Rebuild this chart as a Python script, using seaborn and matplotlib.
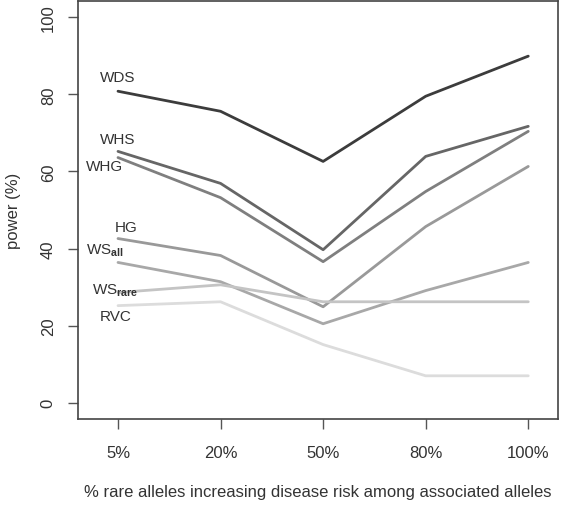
import matplotlib
matplotlib.use("Agg")
import matplotlib.pyplot as plt
import seaborn as sns
import pandas as pd

categories = ["5%", "20%", "50%", "80%", "100%"]
WDS = [80.8, 75.6, 62.6, 79.5, 89.9]
WHS = [65.2, 56.9, 39.7, 63.9, 71.7]
WHG = [63.6, 53.2, 36.6, 54.8, 70.4]
HG = [42.6, 38.2, 24.9, 45.7, 61.3]
WS_all = [36.4, 31.4, 20.5, 29.1, 36.4]
WS_rare = [28.6, 30.6, 26.2, 26.2, 26.2]
RVC = [25.2, 26.2, 15.1, 7.0, 7.0]

series = {"WDS": WDS, "WHS": WHS, "WHG": WHG, "HG": HG,
          "WS_all": WS_all, "WS_rare": WS_rare, "RVC": RVC}
colors = {"WDS": "#3c3c3c", "WHS": "#666666", "WHG": "#7f7f7f", "HG": "#999999",
          "WS_all": "#a8a8a8", "WS_rare": "#c4c4c4", "RVC": "#dcdcdc"}
label_text = {"WDS": "WDS", "WHS": "WHS", "WHG": "WHG", "HG": "HG",
              "WS_all": r"WS$_{\mathbf{all}}$", "WS_rare": r"WS$_{\mathbf{rare}}$", "RVC": "RVC"}
# label anchor positions (category index, data units)
label_pos = {"WDS": (0.0, 84.5), "WHS": (0.0, 68.5), "WHG": (-0.13, 61.5), "HG": (0.08, 45.5),
             "WS_all": (-0.13, 39.8), "WS_rare": (-0.03, 29.3), "RVC": (-0.02, 22.6)}

rows = []
for name, vals in series.items():
    for i, v in enumerate(vals):
        rows.append({"x": i, "power": v, "series": name})
df = pd.DataFrame(rows)

sns.set_style("white")
plt.rcParams["font.family"] = ["Liberation Sans", "DejaVu Sans"]
plt.rcParams["mathtext.fontset"] = "custom"
plt.rcParams["mathtext.rm"] = "Liberation Sans"
plt.rcParams["mathtext.bf"] = "Liberation Sans:bold"

fig = plt.figure(figsize=(5.61, 5.06), dpi=100)
ax = fig.add_axes([78/561, 1-420/506, 480/561, 418/506])

sns.lineplot(data=df, x="x", y="power", hue="series", palette=colors,
             hue_order=list(series.keys()), linewidth=2.0, legend=False, ax=ax,
             sort=False)

for name in series:
    x, y = label_pos[name]
    ax.text(x, y, label_text[name], fontsize=11, color="#333333",
            ha="center", va="center")

ax.set_xlim(-0.39, 4.29)
ax.set_ylim(-4.2, 104.2)
ax.set_xticks(range(len(categories)))
ax.set_xticklabels(categories)
ax.set_yticks([0, 20, 40, 60, 80, 100])
ax.set_yticklabels(["0", "20", "40", "60", "80", "100"], rotation=90, va="center")
ax.tick_params(axis="both", direction="out", length=7, width=1, color="#555555",
               labelsize=12, labelcolor="#333333", bottom=True, left=True)
ax.tick_params(axis="x", pad=12)
ax.tick_params(axis="y", pad=9)
for s in ax.spines.values():
    s.set_color("#444444")
    s.set_linewidth(1.2)
    s.set_visible(True)
ax.set_xlabel("% rare alleles increasing disease risk among associated alleles",
              fontsize=12, color="#333333", labelpad=17)
ax.set_ylabel("power (%)", fontsize=12, color="#333333", labelpad=14)

fig.savefig("out.png", dpi=100)
